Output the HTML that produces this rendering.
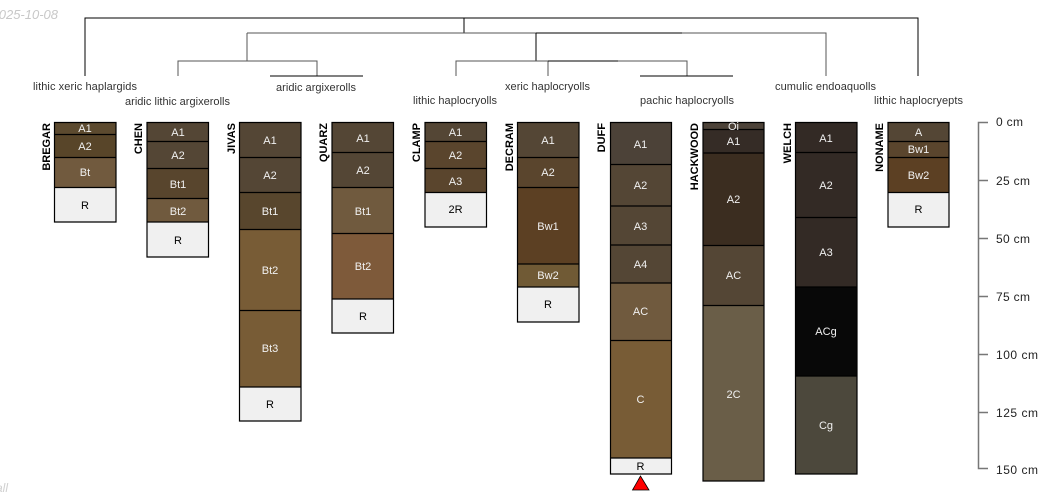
<!DOCTYPE html>
<html><head><meta charset="utf-8"><style>
html,body{margin:0;padding:0;background:#fff;width:1050px;height:500px;overflow:hidden}
svg{display:block}
text{font-family:"Liberation Sans",sans-serif}
.h{font-size:11px;text-anchor:middle;fill:#f0f0f0}
.r{font-size:11px;text-anchor:middle;fill:#000}
.t{font-size:11px;fill:#333}
.n{font-size:11px;font-weight:bold;fill:#000;text-anchor:end}
.a{font-size:12px;fill:#222}
.b{fill:none;stroke:#000;stroke-width:1.2}
.d{stroke:#000;stroke-width:1;fill:none;shape-rendering:crispEdges}
.g{stroke:#555}
</style></head><body>
<svg width="1050" height="500" viewBox="0 0 1050 500" xmlns="http://www.w3.org/2000/svg">
<text x="58" y="19" text-anchor="end" font-size="13" font-style="italic" fill="#c8c8c8">2025-10-08</text>
<text x="8" y="492" text-anchor="end" font-size="12" font-style="italic" fill="#d0d0d0">all</text>

<g class="d">
<path d="M85 76V18H918V76"/>
<path d="M464 18V33"/>
<path class="g" d="M247 33H826V76"/>
<path class="g" d="M247 33V61"/>
<path class="g" d="M178 76V61H317V76"/>
<path d="M270 76H363"/>
<path d="M536 33V61"/>
<path d="M536 33H682"/>
<path class="g" d="M456 76V61H687V76"/>
<path class="g" d="M548 61V76"/>
<path d="M548 61H618"/>
<path d="M640 76H733"/>
</g>

<g class="t">
<text x="33" y="90" textLength="104">lithic xeric haplargids</text>
<text x="125" y="105" textLength="105">aridic lithic argixerolls</text>
<text x="276" y="91" textLength="80">aridic argixerolls</text>
<text x="413" y="104" textLength="84">lithic haplocryolls</text>
<text x="505" y="90" textLength="85">xeric haplocryolls</text>
<text x="640" y="104" textLength="94">pachic haplocryolls</text>
<text x="775" y="90" textLength="101">cumulic endoaquolls</text>
<text x="874" y="104" textLength="89">lithic haplocryepts</text>
</g>

<!-- BREGAR -->
<g>
<rect x="54.5" y="122.5" width="61.5" height="12" fill="#5c4a2f"/>
<rect x="54.5" y="134.5" width="61.5" height="23" fill="#584529"/>
<rect x="54.5" y="157.5" width="61.5" height="30" fill="#715a3e"/>
<rect x="54.5" y="187.5" width="61.5" height="34.5" fill="#f0f0f0"/>
<path class="b" d="M54.5 122.5H116V222H54.5ZM54.5 134.5H116M54.5 157.5H116M54.5 187.5H116"/>
<text class="h" x="85" y="132">A1</text><text class="h" x="85" y="150">A2</text><text class="h" x="85" y="176">Bt</text><text class="r" x="85" y="209">R</text>
<text class="n" transform="translate(50 123) rotate(-90)">BREGAR</text>
</g>
<!-- CHEN -->
<g>
<rect x="147" y="122.5" width="61.5" height="19" fill="#544635"/>
<rect x="147" y="141.5" width="61.5" height="27" fill="#544635"/>
<rect x="147" y="168.5" width="61.5" height="30" fill="#58452d"/>
<rect x="147" y="198.5" width="61.5" height="23.5" fill="#705a3e"/>
<rect x="147" y="222" width="61.5" height="35" fill="#f0f0f0"/>
<path class="b" d="M147 122.5H208.5V257H147ZM147 141.5H208.5M147 168.5H208.5M147 198.5H208.5M147 222H208.5"/>
<text class="h" x="178" y="136">A1</text><text class="h" x="178" y="159">A2</text><text class="h" x="178" y="188">Bt1</text><text class="h" x="178" y="215">Bt2</text><text class="r" x="178" y="244">R</text>
<text class="n" transform="translate(142 123) rotate(-90)">CHEN</text>
</g>
<!-- JIVAS -->
<g>
<rect x="239.5" y="122.5" width="61.5" height="35" fill="#544635"/>
<rect x="239.5" y="157.5" width="61.5" height="35" fill="#544635"/>
<rect x="239.5" y="192.5" width="61.5" height="37" fill="#58462d"/>
<rect x="239.5" y="229.5" width="61.5" height="81" fill="#785c36"/>
<rect x="239.5" y="310.5" width="61.5" height="76.5" fill="#785c36"/>
<rect x="239.5" y="387" width="61.5" height="34" fill="#f0f0f0"/>
<path class="b" d="M239.5 122.5H301V421H239.5ZM239.5 157.5H301M239.5 192.5H301M239.5 229.5H301M239.5 310.5H301M239.5 387H301"/>
<text class="h" x="270" y="144">A1</text><text class="h" x="270" y="179">A2</text><text class="h" x="270" y="215">Bt1</text><text class="h" x="270" y="274">Bt2</text><text class="h" x="270" y="352">Bt3</text><text class="r" x="270" y="408">R</text>
<text class="n" transform="translate(235 123) rotate(-90)">JIVAS</text>
</g>
<!-- QUARZ -->
<g>
<rect x="332" y="122.5" width="61.5" height="30" fill="#544635"/>
<rect x="332" y="152.5" width="61.5" height="35" fill="#544635"/>
<rect x="332" y="187.5" width="61.5" height="46" fill="#705a3e"/>
<rect x="332" y="233.5" width="61.5" height="65.5" fill="#7e5a3a"/>
<rect x="332" y="299" width="61.5" height="34" fill="#f0f0f0"/>
<path class="b" d="M332 122.5H393.5V333H332ZM332 152.5H393.5M332 187.5H393.5M332 233.5H393.5M332 299H393.5"/>
<text class="h" x="363" y="142">A1</text><text class="h" x="363" y="174">A2</text><text class="h" x="363" y="215">Bt1</text><text class="h" x="363" y="270">Bt2</text><text class="r" x="363" y="320">R</text>
<text class="n" transform="translate(327 123) rotate(-90)">QUARZ</text>
</g>
<!-- CLAMP -->
<g>
<rect x="425" y="122.5" width="61.5" height="19" fill="#544635"/>
<rect x="425" y="141.5" width="61.5" height="27" fill="#5a452d"/>
<rect x="425" y="168.5" width="61.5" height="24" fill="#5a452d"/>
<rect x="425" y="192.5" width="61.5" height="34.5" fill="#f0f0f0"/>
<path class="b" d="M425 122.5H486.5V227H425ZM425 141.5H486.5M425 168.5H486.5M425 192.5H486.5"/>
<text class="h" x="455.5" y="136">A1</text><text class="h" x="455.5" y="159">A2</text><text class="h" x="455.5" y="185">A3</text><text class="r" x="455.5" y="213">2R</text>
<text class="n" transform="translate(420 123) rotate(-90)">CLAMP</text>
</g>
<!-- DECRAM -->
<g>
<rect x="517.5" y="122.5" width="61.5" height="35" fill="#544635"/>
<rect x="517.5" y="157.5" width="61.5" height="30" fill="#5a452d"/>
<rect x="517.5" y="187.5" width="61.5" height="76.5" fill="#5c4023"/>
<rect x="517.5" y="264" width="61.5" height="23" fill="#705a35"/>
<rect x="517.5" y="287" width="61.5" height="35" fill="#f0f0f0"/>
<path class="b" d="M517.5 122.5H579V322H517.5ZM517.5 157.5H579M517.5 187.5H579M517.5 264H579M517.5 287H579"/>
<text class="h" x="548" y="144">A1</text><text class="h" x="548" y="176">A2</text><text class="h" x="548" y="230">Bw1</text><text class="h" x="548" y="279">Bw2</text><text class="r" x="548" y="308">R</text>
<text class="n" transform="translate(513 123) rotate(-90)">DECRAM</text>
</g>
<!-- DUFF -->
<g>
<rect x="610.5" y="122.5" width="61" height="42" fill="#4c4238"/>
<rect x="610.5" y="164.5" width="61" height="41.5" fill="#544635"/>
<rect x="610.5" y="206" width="61" height="39" fill="#544635"/>
<rect x="610.5" y="245" width="61" height="38" fill="#544635"/>
<rect x="610.5" y="283" width="61" height="57.5" fill="#705a3e"/>
<rect x="610.5" y="340.5" width="61" height="117.5" fill="#785c36"/>
<rect x="610.5" y="458" width="61" height="16" fill="#f0f0f0"/>
<path class="b" d="M610.5 122.5H671.5V474H610.5ZM610.5 164.5H671.5M610.5 206H671.5M610.5 245H671.5M610.5 283H671.5M610.5 340.5H671.5M610.5 458H671.5"/>
<text class="h" x="640.5" y="148">A1</text><text class="h" x="640.5" y="189">A2</text><text class="h" x="640.5" y="230">A3</text><text class="h" x="640.5" y="268">A4</text><text class="h" x="640.5" y="315">AC</text><text class="h" x="640.5" y="403">C</text><text class="r" x="640.5" y="470">R</text>
<text class="n" transform="translate(605 123) rotate(-90)">DUFF</text>
<polygon points="640.5,476 632.5,490 649,490" fill="#f00" stroke="#000" stroke-width=".8"/>
</g>
<!-- HACKWOOD -->
<g>
<rect x="703" y="122.5" width="61" height="7" fill="#4c4238"/>
<rect x="703" y="129.5" width="61" height="23.5" fill="#352c26"/>
<rect x="703" y="153" width="61" height="92.5" fill="#3b2d20"/>
<rect x="703" y="245.5" width="61" height="60" fill="#544635"/>
<rect x="703" y="305.5" width="61" height="176" fill="#6a5e48"/>
<path class="b" d="M703 122.5H764V481H703ZM703 129.5H764M703 153H764M703 245.5H764M703 305.5H764"/>
<text class="h" x="733.5" y="130">Oi</text><text class="h" x="733.5" y="145">A1</text><text class="h" x="733.5" y="203">A2</text><text class="h" x="733.5" y="279">AC</text><text class="h" x="733.5" y="398">2C</text>
<text class="n" transform="translate(698 123) rotate(-90)">HACKWOOD</text>
</g>
<!-- WELCH -->
<g>
<rect x="795.5" y="122.5" width="61.5" height="30" fill="#332a25"/>
<rect x="795.5" y="152.5" width="61.5" height="65" fill="#332a25"/>
<rect x="795.5" y="217.5" width="61.5" height="69.5" fill="#332a25"/>
<rect x="795.5" y="287" width="61.5" height="89" fill="#080808"/>
<rect x="795.5" y="376" width="61.5" height="98" fill="#4c483c"/>
<path class="b" d="M795.5 122.5H857V474H795.5ZM795.5 152.5H857M795.5 217.5H857M795.5 287H857M795.5 376H857"/>
<text class="h" x="826" y="142">A1</text><text class="h" x="826" y="189">A2</text><text class="h" x="826" y="256">A3</text><text class="h" x="826" y="335">ACg</text><text class="h" x="826" y="429">Cg</text>
<text class="n" transform="translate(791 123) rotate(-90)">WELCH</text>
</g>
<!-- NONAME -->
<g>
<rect x="888" y="122.5" width="61" height="19" fill="#544635"/>
<rect x="888" y="141.5" width="61" height="16" fill="#5a452d"/>
<rect x="888" y="157.5" width="61" height="35" fill="#5c4023"/>
<rect x="888" y="192.5" width="61" height="34.5" fill="#f0f0f0"/>
<path class="b" d="M888 122.5H949V227H888ZM888 141.5H949M888 157.5H949M888 192.5H949"/>
<text class="h" x="918.5" y="136">A</text><text class="h" x="918.5" y="153">Bw1</text><text class="h" x="918.5" y="179">Bw2</text><text class="r" x="918.5" y="213">R</text>
<text class="n" transform="translate(883 123) rotate(-90)">NONAME</text>
</g>

<path d="M988 122.5H978.5V468.5H988M978.5 180.5H988M978.5 238.5H988M978.5 296.5H988M978.5 354.5H988M978.5 412.5H988" fill="none" stroke="#777" stroke-width="1.5"/>
<g class="a">
<text x="996" y="126" textLength="27">0 cm</text>
<text x="996" y="185" textLength="34">25 cm</text>
<text x="996" y="243" textLength="34">50 cm</text>
<text x="996" y="301" textLength="34">75 cm</text>
<text x="996" y="359" textLength="42">100 cm</text>
<text x="996" y="417" textLength="42">125 cm</text>
<text x="996" y="474" textLength="42">150 cm</text>
</g>
</svg>
</body></html>
